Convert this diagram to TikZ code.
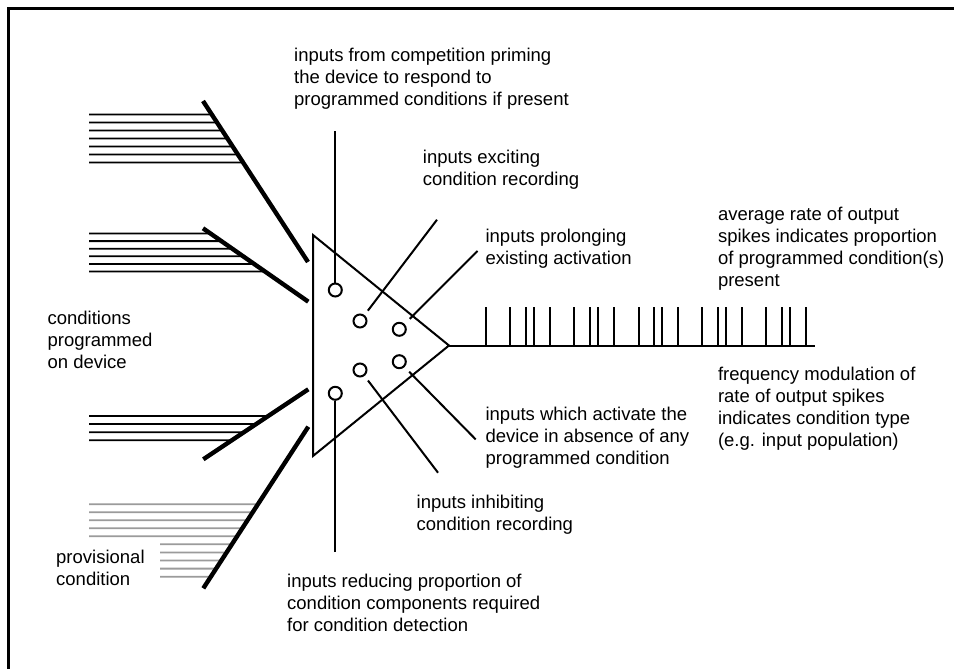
\documentclass[tikz,border=0pt]{standalone}
\usepackage{fontspec}
\setmainfont{Liberation Sans}
\usetikzlibrary{calc}
\definecolor{provgray}{RGB}{155,155,155}
\begin{document}
\begin{tikzpicture}[x=1pt,y=-1pt,
  lbl/.style={anchor=north west, inner sep=0pt, align=left, font=\fontsize{18.5}{22}\selectfont},
  wire/.style={line width=2pt},
  bar/.style={line width=4.4pt},
  fibre/.style={line width=1.8pt},
  provfibre/.style={line width=1.8pt, draw=provgray},
  soma/.style={line width=2pt, line join=miter},
  syn/.style={circle, draw, line width=2pt, minimum size=13pt, inner sep=0pt},
  spike/.style={line width=2pt},
]
% page and frame
\fill[white] (0,0) rectangle (954,669);
\useasboundingbox (0,0) rectangle (954,669);
\draw[line width=2.5pt] (8.5,669) -- (8.5,8.3) -- (954,8.3);

% device body
\coordinate (tl) at (313,235);
\coordinate (apex) at (449,345.5);
\coordinate (bl) at (313,456);
\draw[soma] (tl) -- (apex) -- (bl) -- cycle;

% synapse sites
\node[syn] (c1) at (335.3,290) {};
\node[syn] (c2) at (360,321) {};
\node[syn] (c3) at (399.3,329.3) {};
\node[syn] (c4) at (399.3,361.7) {};
\node[syn] (c5) at (360,370) {};
\node[syn] (c6) at (335.3,393.3) {};

% input lines to the synapse sites
\coordinate (primeIn) at (335.3,131);
\coordinate (reduceIn) at (335.3,552);
\coordinate (exciteIn) at (437,219.7);
\coordinate (prolongIn) at (477.5,251);
\coordinate (activateIn) at (475.7,439.4);
\coordinate (inhibitIn) at (438,472.7);
\draw[wire] (primeIn) -- (c1);
\draw[wire] (reduceIn) -- (c6);
\draw[wire, shorten >=5.5pt] (exciteIn) -- (c2);
\draw[wire, shorten >=7.3pt] (prolongIn) -- (c3);
\draw[wire, shorten >=6.6pt] (activateIn) -- (c4);
\draw[wire, shorten >=5.7pt] (inhibitIn) -- (c5);

% output spike train
\coordinate (outEnd) at (815,345.5);
\draw[wire] (apex) -- (outEnd);
\foreach \sx in {486,510,526,534.3,550,574.3,590,597.7,614,638.7,654.3,661.7,677.7,702.3,718.3,726,741.7,766,781.7,790,806}
  \draw[spike] (\sx,307) -- (\sx,345.5);

% programmed condition bundles
\coordinate (a1) at (203,101);   \coordinate (b1) at (308,262);
\coordinate (a2) at (203,228.3); \coordinate (b2) at (308.3,301.7);
\coordinate (a3) at (203.3,459.3); \coordinate (b3) at (308.3,389.3);
\coordinate (a4) at (203.3,588.3); \coordinate (b4) at (308.3,426.7);

\foreach \y in {114.5,122.5,130.5,138.5,146.5,154.5,162.5} {
  \pgfmathsetmacro\t{(\y-101)/(262-101)}
  \draw[fibre] (89,\y) -- ($(a1)!\t!(b1)$);
}
\foreach \y in {233.5,241.1,248.7,256.3,263.9,271.5} {
  \pgfmathsetmacro\t{(\y-228.3)/(301.7-228.3)}
  \draw[fibre] (89,\y) -- ($(a2)!\t!(b2)$);
}
\foreach \y in {416,424,432.2,440.3} {
  \pgfmathsetmacro\t{(\y-459.3)/(389.3-459.3)}
  \draw[fibre] (89,\y) -- ($(a3)!\t!(b3)$);
}
% provisional condition
\foreach \y in {504.3,512.3,520.3,528.3,536.3} {
  \pgfmathsetmacro\t{(\y-588.3)/(426.7-588.3)}
  \draw[provfibre] (89,\y) -- ($(a4)!\t!(b4)$);
}
\foreach \y in {544.3,552.4,560.5,568.6,576.7} {
  \pgfmathsetmacro\t{(\y-588.3)/(426.7-588.3)}
  \draw[provfibre] (160,\y) -- ($(a4)!\t!(b4)$);
}

\draw[bar] (a1) -- (b1);
\draw[bar] (a2) -- (b2);
\draw[bar] (a3) -- (b3);
\draw[bar] (a4) -- (b4);

% labels
\node[lbl] (tPrime) at (294,48) {inputs from competition priming\\the device to respond to\\programmed conditions if present};
\node[lbl] (tExcite) at (422.7,150) {inputs exciting\\condition recording};
\node[lbl] (tProlong) at (485.4,229) {inputs prolonging\\existing activation};
\node[lbl] (tRate) at (717.8,206.5) {average rate of output\\spikes indicates proportion\\of programmed condition(s)\\present};
\node[lbl] (tCond) at (47.4,310.5) {conditions\\programmed\\on device};
\node[lbl] (tFreq) at (717.8,366.8) {frequency modulation of\\rate of output spikes\\indicates condition type\\(e.g. input population)};
\node[lbl] (tActivate) at (485.4,406.5) {inputs which activate the\\device in absence of any\\programmed condition};
\node[lbl] (tInhibit) at (416.5,494.8) {inputs inhibiting\\condition recording};
\node[lbl] (tProv) at (56,550.3) {provisional\\condition};
\node[lbl] (tReduce) at (287,573.7) {inputs reducing proportion of\\condition components required\\for condition detection};
\end{tikzpicture}
\end{document}
